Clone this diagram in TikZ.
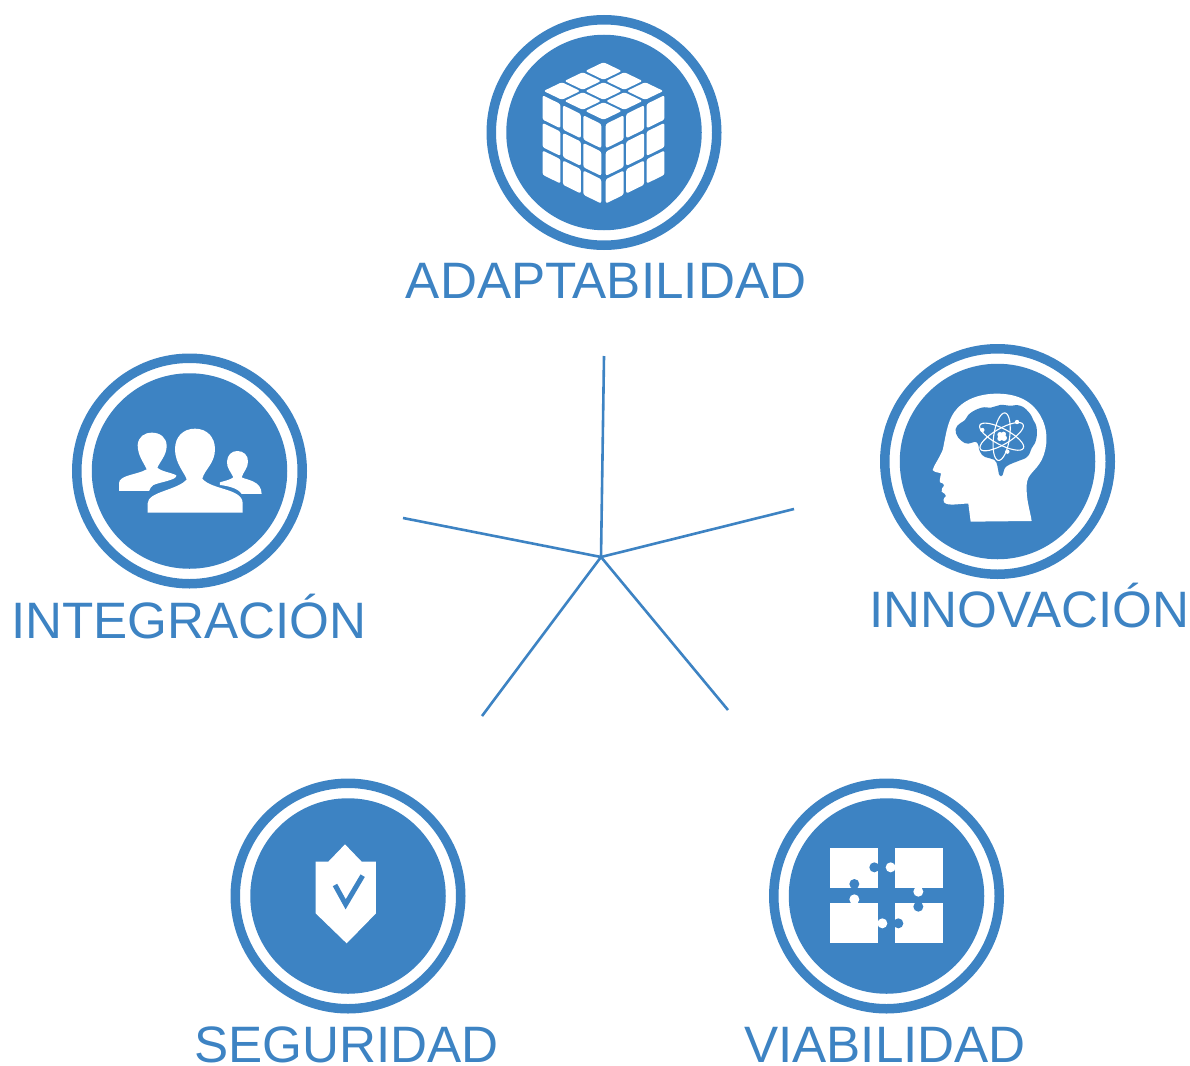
\documentclass[tikz,border=0pt]{standalone}
\usepackage{fontspec}
\setmainfont{Liberation Sans}
\definecolor{bl}{HTML}{3D83C3}
\newcommand\Stk[8]{% ox oy ux uy vx vy i j
  \fill[white,rounded corners=2.2pt]
   ({#1+(#3)*(#7+.06)+(#5)*(#8+.06)},{#2+(#4)*(#7+.06)+(#6)*(#8+.06)}) --
   ({#1+(#3)*(#7+.94)+(#5)*(#8+.06)},{#2+(#4)*(#7+.94)+(#6)*(#8+.06)}) --
   ({#1+(#3)*(#7+.94)+(#5)*(#8+.94)},{#2+(#4)*(#7+.94)+(#6)*(#8+.94)}) --
   ({#1+(#3)*(#7+.06)+(#5)*(#8+.94)},{#2+(#4)*(#7+.06)+(#6)*(#8+.94)}) -- cycle;}
\tikzset{
  ring/.style={circle,draw=bl,line width=9.5pt,minimum size=225.5pt,inner sep=0pt,outer sep=0pt},
  disc/.style={circle,fill=bl,minimum size=195.5pt,inner sep=0pt,outer sep=0pt},
  lab/.style={text=bl,font=\fontsize{51.2}{51.2}\selectfont,anchor=base,inner sep=0pt},
  spoke/.style={draw=bl,line width=2.6pt},
  atomline/.style={draw=white,line width=1.1pt}
}
\begin{document}
\begin{tikzpicture}[x=1pt,y=-1pt]
\useasboundingbox (0,0) rectangle (1190,1065);
% rings and discs
\foreach \n/\px/\py in {adapt/604/132.5,innov/997.5/461.5,integ/189.5/471,segur/348/896,viab/886.5/896}{
  \node[ring] (\n ring) at (\px,\py) {};
  \node[disc] (\n disc) at (\px,\py) {};
}
% labels
\node[lab] (adaptlab) at (606,298) {ADAPTABILIDAD};
\node[lab] (integlab) at (189,638) {INTEGRACIÓN};
\node[lab] (innovlab) at (1029.5,627) {INNOVACIÓN};
\node[lab] (segurlab) at (346.5,1062) {SEGURIDAD};
\node[lab] (viablab) at (885,1062) {VIABILIDAD};
% spokes
\coordinate (hub) at (601,557);
\coordinate (e1) at (604,356);
\coordinate (e2) at (794,509);
\coordinate (e3) at (728,710);
\coordinate (e4) at (482,716);
\coordinate (e5) at (403,518);
\foreach \e in {e1,e2,e3,e4,e5}{\draw[spoke] (hub) -- (\e);}
% cube
\foreach \i in {0,1,2}{\foreach \j in {0,1,2}{
  \Stk{603.5}{121}{-20.8}{-10}{20.8}{-10}{\i}{\j}
  \Stk{602.5}{123}{-20.4}{-10}{0}{27.6}{\i}{\j}
  \Stk{604.5}{123}{20.4}{-10}{0}{27.6}{\i}{\j}
}}
% head
\begin{scope}[shift={(920,385)},x=0.3333pt,y=-0.3333pt]
\fill[white] (152,410) -- (335,408) .. controls (330,375) and (318,345) .. (320,300)
  .. controls (322,265) and (345,262) .. (365,225)
  .. controls (385,185) and (385,130) .. (360,90)
  .. controls (330,40) and (280,25) .. (225,26)
  .. controls (160,28) and (110,55) .. (90,105)
  .. controls (78,135) and (75,165) .. (68,195)
  .. controls (58,220) and (42,240) .. (38,255)
  .. controls (42,262) and (55,262) .. (63,265)
  .. controls (63,275) and (57,285) .. (60,292)
  .. controls (70,295) and (72,298) .. (72,302)
  .. controls (68,308) and (63,312) .. (65,320)
  .. controls (72,325) and (78,328) .. (78,333)
  .. controls (70,340) and (68,348) .. (72,352)
  .. controls (85,365) and (120,355) .. (145,356) -- cycle;
\fill[bl] plot[smooth cycle,tension=.8] coordinates {
  (108,145) (112,122) (135,105) (150,85) (185,68) (212,68) (240,60) (270,62)
  (300,62) (325,80) (340,105) (350,130) (348,165) (335,190) (322,215)
  (295,228) (270,238) (254,250) (248,270) (238,270) (232,242) (222,224) (195,216) (180,200)
  (170,172) (145,176) (125,168)};
\begin{scope}[shift={(245,155)}]
  \draw[atomline] (0,0) ellipse[x radius=74,y radius=24,rotate=-28];
  \draw[atomline] (0,0) ellipse[x radius=74,y radius=24,rotate=30];
  \draw[atomline] (0,0) ellipse[x radius=72,y radius=24,rotate=82];
  \fill[white] (-5,-6) circle[radius=8] (6,-8) circle[radius=7] (-6,6) circle[radius=7] (7,4) circle[radius=9] (0,0) circle[radius=6];
  \fill[white] (-58,-20) circle[radius=6.5] (46,-44) circle[radius=6.5] (17,45) circle[radius=6.5];
\end{scope}
\end{scope}
% people
\begin{scope}[shift={(105,420)},x=0.3333pt,y=-0.3333pt]
\fill[white] (42,213) -- (42,190) .. controls (42,165) and (95,165) .. (125,148)
  .. controls (118,130) and (98,108) .. (98,75)
  .. controls (100,50) and (118,38) .. (141,38)
  .. controls (165,38) and (185,52) .. (185,78)
  .. controls (185,105) and (165,125) .. (157,143)
  .. controls (170,155) and (200,158) .. (214,166)
  .. controls (216,180) and (170,185) .. (145,195)
  .. controls (138,200) and (135,206) .. (132,213) -- cycle;
\fill[white] (128,278) -- (128,250) .. controls (128,215) and (220,210) .. (245,178)
  .. controls (240,160) and (210,130) .. (210,88)
  .. controls (210,50) and (235,26) .. (270,26)
  .. controls (305,26) and (330,50) .. (330,88)
  .. controls (330,130) and (298,150) .. (292,176)
  .. controls (320,210) and (413,205) .. (413,250) -- (413,278) -- cycle;
\fill[white] (345,187) .. controls (360,182) and (375,180) .. (385,172)
  .. controls (378,155) and (365,145) .. (366,125)
  .. controls (367,105) and (380,93) .. (397,93)
  .. controls (415,93) and (430,105) .. (429,125)
  .. controls (429,145) and (415,155) .. (410,172)
  .. controls (425,180) and (470,182) .. (470,222)
  -- (410,222) .. controls (400,205) and (370,198) .. (345,195) -- cycle;
\end{scope}
% shield
\begin{scope}[shift={(300,835)},x=0.3333pt,y=-0.3333pt]
\fill[white] (135,28) -- (185,80) -- (228,80) -- (228,235) -- (140,325) -- (47,235) -- (47,80) -- (85,80) -- cycle;
\draw[bl,line width=5pt] (105,150) -- (137,208) -- (188,122);
\end{scope}
% puzzle
\begin{scope}[shift={(820,840)},x=0.3333pt,y=-0.3333pt]
\fill[white] (30,24) rectangle (174,144);
\fill[white] (225,24) rectangle (369,144);
\fill[white] (30,189) rectangle (174,308);
\fill[white] (225,189) rectangle (369,308);
\fill[bl] (163,82) circle[radius=15] (103,132) circle[radius=15] (295,200) circle[radius=15] (235,250) circle[radius=15];
\fill[white] (212,82) circle[radius=15] (103,178) circle[radius=15] (295,155) circle[radius=15] (187,250) circle[radius=15];
\end{scope}
\end{tikzpicture}
\end{document}
